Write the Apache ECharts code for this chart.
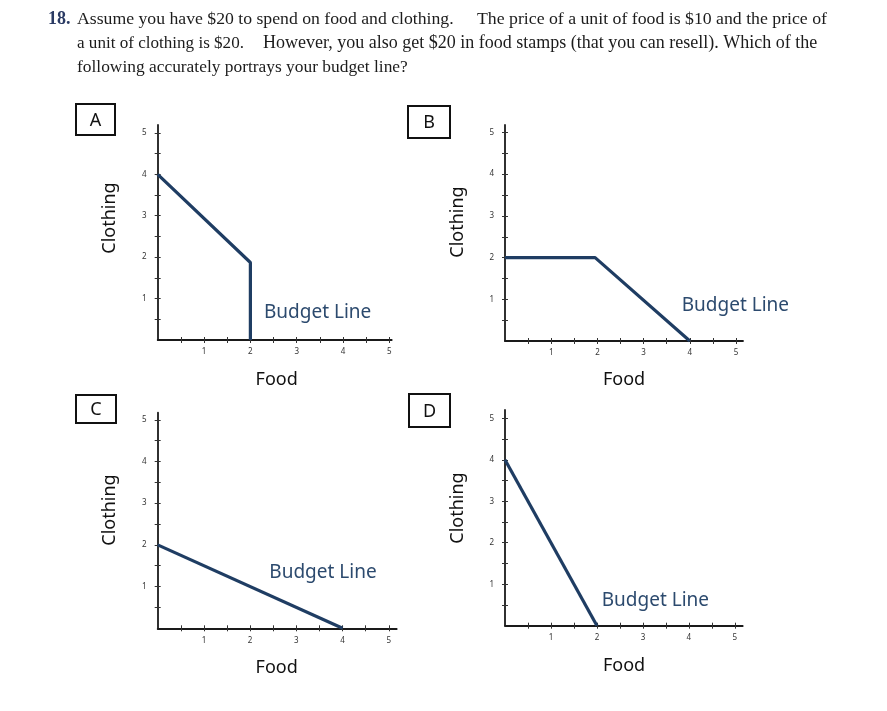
<!DOCTYPE html>
<html>
<head>
<meta charset="utf-8">
<script src="https://cdn.jsdelivr.net/npm/echarts@6/dist/echarts.min.js"></script>
<style>
html,body{margin:0;padding:0;background:#fff;}
#chart{width:887px;height:711px;}
</style>
</head>
<body>
<div id="chart"></div>
<script>
// ---- data ----
const panelNames = ['A', 'B', 'C', 'D'];
const xAxisTitle = 'Food';
const yAxisTitle = 'Clothing';
const lineLabel = 'Budget Line';
const tickLabels = [1, 2, 3, 4, 5];
const tickMarks = [0.5, 1, 1.5, 2, 2.5, 3, 3.5, 4, 4.5, 5];
const budgetA = [[0, 4], [2, 1.87], [2, 0]];
const budgetB = [[0, 2], [1.95, 2], [4, 0]];
const budgetC = [[0, 2], [4, 0]];
const budgetD = [[0, 4], [2, 0]];
const questionNumber = '18.';
const questionLines = [
  ['Assume you have $20 to spend on food and clothing.', 'The price of a unit of food is $10 and the price of'],
  ['a unit of clothing is $20.', 'However, you also get $20 in food stamps (that you can resell). Which of the'],
  ['following accurately portrays your budget line?']
];

// ---- layout ----
const budgets = [budgetA, budgetB, budgetC, budgetD];
const grids = [
  {left: 157.7, top: 125, width: 234, height: 215, xMax: 5.05, yMax: 5.19,
   box: [76, 104, 39, 31], cloth: [110, 218], food: [276.7, 380], bl: [264, 313]},
  {left: 505, top: 125, width: 238, height: 216, xMax: 5.15, yMax: 5.18,
   box: [408, 106, 42, 32], cloth: [458, 222], food: [624, 380], bl: [681.7, 305.7]},
  {left: 157.7, top: 412.7, width: 239, height: 215.6, xMax: 5.17, yMax: 5.17,
   box: [76, 395, 40, 28], cloth: [110, 510], food: [276.7, 668], bl: [269.3, 573]},
  {left: 505, top: 410, width: 237.7, height: 215.7, xMax: 5.17, yMax: 5.2,
   box: [409, 394, 41, 33], cloth: [458, 508], food: [624, 666], bl: [601.7, 600.7]}
];
const titleSegs = [
  {x: 77, w: 377}, {x: 477, w: 350},
  {x: 77, w: 167}, {x: 263, w: 554},
  {x: 77, w: 331}
];
const titleY = [19.5, 43.5, 67];

const serif = '"Liberation Serif", "DejaVu Serif", serif';
const sans = '"Noto Sans", "DejaVu Sans", sans-serif';
const mctx = document.createElement('canvas').getContext('2d');
function fit(text, family, weight, width) {
  mctx.font = weight + ' 100px ' + family;
  return 100 * width / mctx.measureText(text).width;
}

const option = {
  animation: false,
  backgroundColor: '#ffffff',
  grid: [], xAxis: [], yAxis: [], series: [], graphic: []
};

const axisLineStyle = {color: '#1a1a1a', width: 1.8};
grids.forEach((g, i) => {
  option.grid.push({left: g.left, top: g.top, width: g.width, height: g.height, containLabel: false});
  // main axes
  option.xAxis.push({
    type: 'value', gridIndex: i, min: 0, max: g.xMax, position: 'bottom',
    axisLine: {show: true, onZero: false, lineStyle: axisLineStyle},
    axisTick: {show: true, length: 3, inside: false, customValues: tickMarks, lineStyle: {color: '#333', width: 1}},
    axisLabel: {show: true, customValues: tickLabels, fontSize: 8, color: '#333', margin: 8, fontFamily: sans},
    splitLine: {show: false}
  });
  option.yAxis.push({
    type: 'value', gridIndex: i, min: 0, max: g.yMax, position: 'left',
    axisLine: {show: true, onZero: false, lineStyle: axisLineStyle},
    axisTick: {show: true, length: 3, inside: false, customValues: tickMarks, lineStyle: {color: '#333', width: 1}},
    axisLabel: {show: true, customValues: tickLabels, fontSize: 8, color: '#333', margin: 11, fontFamily: sans},
    splitLine: {show: false}
  });
  // inner tick halves (ticks crossing the axis)
  option.xAxis.push({
    type: 'value', gridIndex: i, min: 0, max: g.xMax, position: 'bottom',
    axisLine: {show: false, onZero: false},
    axisTick: {show: true, length: 3, inside: true, customValues: tickMarks, lineStyle: {color: '#333', width: 1}},
    axisLabel: {show: false}, splitLine: {show: false}
  });
  option.yAxis.push({
    type: 'value', gridIndex: i, min: 0, max: g.yMax, position: 'left',
    axisLine: {show: false, onZero: false},
    axisTick: {show: true, length: 3, inside: true, customValues: tickMarks, lineStyle: {color: '#333', width: 1}},
    axisLabel: {show: false}, splitLine: {show: false}
  });
  option.series.push({
    type: 'line', xAxisIndex: 2 * i, yAxisIndex: 2 * i, data: budgets[i],
    symbol: 'none', lineStyle: {color: '#1f3d63', width: 3.2}, z: 5
  });
  // box with letter
  option.graphic.push({
    type: 'rect', shape: {x: g.box[0], y: g.box[1], width: g.box[2], height: g.box[3]},
    style: {fill: '#fff', stroke: '#111', lineWidth: 2}
  });
  option.graphic.push({
    type: 'text', x: g.box[0] + g.box[2] / 2, y: g.box[1] + g.box[3] / 2 + 1,
    style: {text: panelNames[i], font: '18px ' + sans, fill: '#111', align: 'center', verticalAlign: 'middle'}
  });
  option.graphic.push({
    type: 'text', x: g.cloth[0], y: g.cloth[1], rotation: Math.PI / 2,
    style: {text: yAxisTitle, font: '18px ' + sans, fill: '#111', align: 'center', verticalAlign: 'middle'}
  });
  option.graphic.push({
    type: 'text', x: g.food[0], y: g.food[1],
    style: {text: xAxisTitle, font: '18px ' + sans, fill: '#111', align: 'center', verticalAlign: 'middle'}
  });
  option.graphic.push({
    type: 'text', x: g.bl[0], y: g.bl[1],
    style: {text: lineLabel, font: '19px ' + sans, fill: '#2c4a6e', align: 'left', verticalAlign: 'middle'}
  });
});

// question text
option.graphic.push({
  type: 'text', x: 48, y: titleY[0],
  style: {text: questionNumber, font: 'bold 18px ' + serif, fill: '#2a3a63', align: 'left', verticalAlign: 'middle'}
});
let si = 0;
questionLines.forEach((line, li) => {
  line.forEach(seg => {
    const s = titleSegs[si++];
    const fs = fit(seg, serif, 'normal', s.w);
    option.graphic.push({
      type: 'text', x: s.x, y: titleY[li],
      style: {text: seg, font: fs.toFixed(2) + 'px ' + serif, fill: '#1c1c1c', align: 'left', verticalAlign: 'middle'}
    });
  });
});

const chart = echarts.init(document.getElementById('chart'));
chart.setOption(option);
</script>
</body>
</html>
